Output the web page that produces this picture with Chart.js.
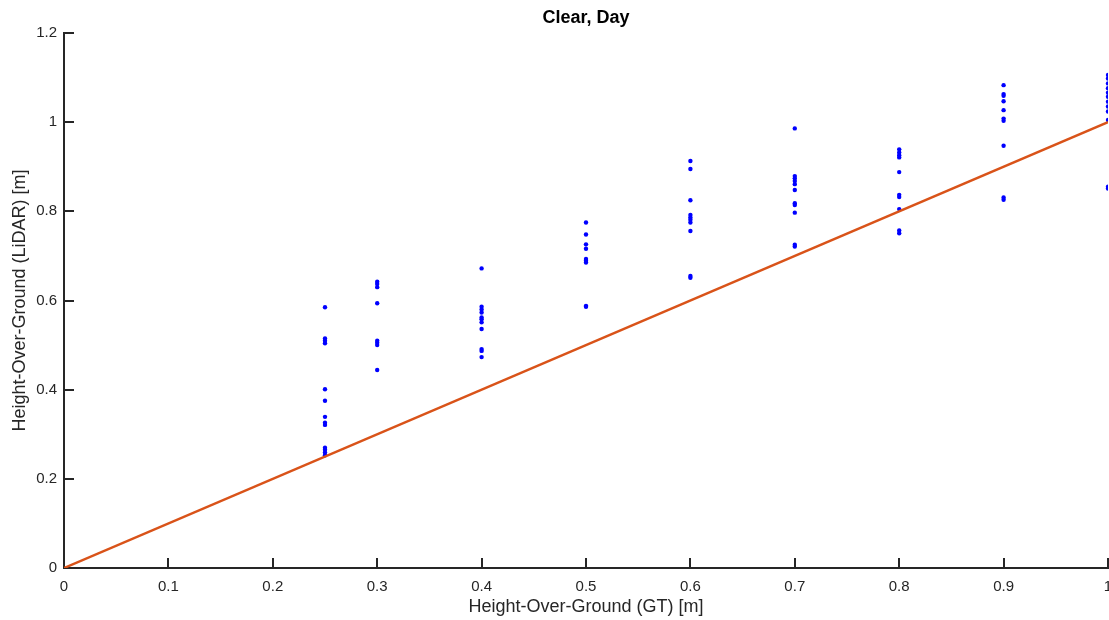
<!DOCTYPE html>
<html>
<head>
<meta charset="utf-8">
<title>Clear, Day</title>
<script src="https://cdn.jsdelivr.net/npm/chart.js@4/dist/chart.umd.min.js"></script>
<style>
    html, body { margin: 0; padding: 0; background: #fff; }
    #wrap { width: 1109px; height: 620px; }
</style>
</head>
<body>
<div id="wrap"><canvas id="myChart" width="1109" height="620"></canvas></div>
<script>
// #region data
const gtLevels = [0.25, 0.3, 0.4, 0.5, 0.6, 0.7, 0.8, 0.9, 1.0];

const lidar025 = [0.585, 0.515, 0.510, 0.504, 0.401, 0.375, 0.339, 0.326, 0.321, 0.270, 0.265, 0.259, 0.253];
const lidar030 = [0.642, 0.637, 0.630, 0.594, 0.510, 0.505, 0.500, 0.444];
const lidar040 = [0.672, 0.586, 0.580, 0.573, 0.562, 0.558, 0.551, 0.536, 0.491, 0.487, 0.473];
const lidar050 = [0.775, 0.748, 0.726, 0.716, 0.693, 0.689, 0.685, 0.588, 0.586];
const lidar060 = [0.913, 0.895, 0.825, 0.792, 0.786, 0.781, 0.775, 0.756, 0.655, 0.651];
const lidar070 = [0.986, 0.879, 0.874, 0.868, 0.861, 0.848, 0.818, 0.814, 0.797, 0.725, 0.721];
const lidar080 = [0.939, 0.932, 0.926, 0.921, 0.888, 0.837, 0.832, 0.805, 0.757, 0.751];
const lidar090 = [1.083, 1.063, 1.059, 1.047, 1.027, 1.008, 1.003, 0.947, 0.831, 0.826];
const lidar100 = [1.106, 1.098, 1.087, 1.076, 1.066, 1.057, 1.046, 1.035, 1.024, 1.005, 0.855, 0.851];

const lidarByLevel = [lidar025, lidar030, lidar040, lidar050, lidar060, lidar070, lidar080, lidar090, lidar100];

// reference line y = x
const refX = [0, 1];
const refY = [0, 1];

const xTickLabels = ['0', '0.1', '0.2', '0.3', '0.4', '0.5', '0.6', '0.7', '0.8', '0.9', '1'];
const yTickLabels = ['0', '0.2', '0.4', '0.6', '0.8', '1', '1.2'];
// #endregion data

const
    axisColor = '#262626',
    fontFamily = "'Liberation Sans', Arial, Helvetica, sans-serif";

const scatterPoints = [];
gtLevels.forEach((gt, i) => {
    lidarByLevel[i].forEach(v => scatterPoints.push({ x: gt, y: v }));
});
const refPoints = refX.map((x, i) => ({ x: x, y: refY[i] }));

// MATLAB style ticks pointing into the plot
const inwardTicks = {
    id: 'inwardTicks',
    afterDatasetsDraw(chart) {
        const { ctx, chartArea, scales } = chart;
        const len = 10;
        ctx.save();
        ctx.strokeStyle = axisColor;
        ctx.lineWidth = 2;
        ctx.beginPath();
        scales.x.ticks.forEach((t, i) => {
            if (i === 0) return;
            const px = Math.round(scales.x.getPixelForTick(i));
            ctx.moveTo(px, chartArea.bottom);
            ctx.lineTo(px, chartArea.bottom - len);
        });
        scales.y.ticks.forEach((t, i) => {
            if (i === 0) return;
            const py = Math.round(scales.y.getPixelForTick(i));
            ctx.moveTo(chartArea.left, py);
            ctx.lineTo(chartArea.left + len, py);
        });
        ctx.stroke();
        ctx.restore();
    }
};

function render() {
    const ctx = document.querySelector('#myChart').getContext('2d');

    new Chart(ctx, {
        data: {
            datasets: [
                {
                    type: 'line',
                    label: 'GT',
                    data: refPoints,
                    borderColor: '#D95319',
                    borderWidth: 2.5,
                    pointRadius: 0,
                    fill: false,
                    clip: 0
                },
                {
                    type: 'scatter',
                    label: 'LiDAR',
                    data: scatterPoints,
                    backgroundColor: '#0000FF',
                    borderWidth: 0,
                    pointRadius: 2.2,
                    clip: 0
                }
            ]
        },
        options: {
            responsive: false,
            animation: false,
            devicePixelRatio: 1,
            events: [],
            layout: { autoPadding: false, padding: { left: 0, right: 1, top: 0, bottom: 0 } },
            plugins: {
                legend: { display: false },
                tooltip: { enabled: false },
                title: {
                    display: true,
                    fullSize: false, // centre over the axes, not the canvas
                    text: 'Clear, Day',
                    color: '#000',
                    font: { family: fontFamily, size: 18, weight: 'bold' },
                    padding: { top: 7, bottom: 4.4 }
                }
            },
            scales: {
                x: {
                    type: 'linear',
                    min: 0,
                    max: 1,
                    grid: { display: false, drawTicks: false },
                    border: { display: true, color: axisColor, width: 2 },
                    ticks: {
                        stepSize: 0.1,
                        padding: 10,
                        color: axisColor,
                        maxRotation: 0,
                        autoSkip: false,
                        font: { family: fontFamily, size: 15 },
                        callback: (v, i) => xTickLabels[i]
                    },
                    title: {
                        display: true,
                        text: 'Height-Over-Ground (GT) [m]',
                        color: axisColor,
                        font: { family: fontFamily, size: 18 },
                        padding: { top: 2, bottom: 2.2 }
                    },
                    afterFit(scale) {
                        scale.height = 52;
                        // last label "1" may run off the canvas, as in the reference
                        scale.paddingRight = 0;
                    }
                },
                y: {
                    type: 'linear',
                    min: 0,
                    max: 1.2,
                    grid: { display: false, drawTicks: false },
                    border: { display: true, color: axisColor, width: 2 },
                    ticks: {
                        stepSize: 0.2,
                        padding: 7,
                        color: axisColor,
                        autoSkip: false,
                        font: { family: fontFamily, size: 15 },
                        callback: (v, i) => yTickLabels[i]
                    },
                    title: {
                        display: true,
                        text: 'Height-Over-Ground (LiDAR) [m]',
                        color: axisColor,
                        font: { family: fontFamily, size: 18 },
                        padding: { top: 9, bottom: 2 }
                    },
                    afterFit(scale) {
                        scale.width = 64;
                    }
                }
            }
        },
        plugins: [inwardTicks]
    });
}

render();
</script>
</body>
</html>
